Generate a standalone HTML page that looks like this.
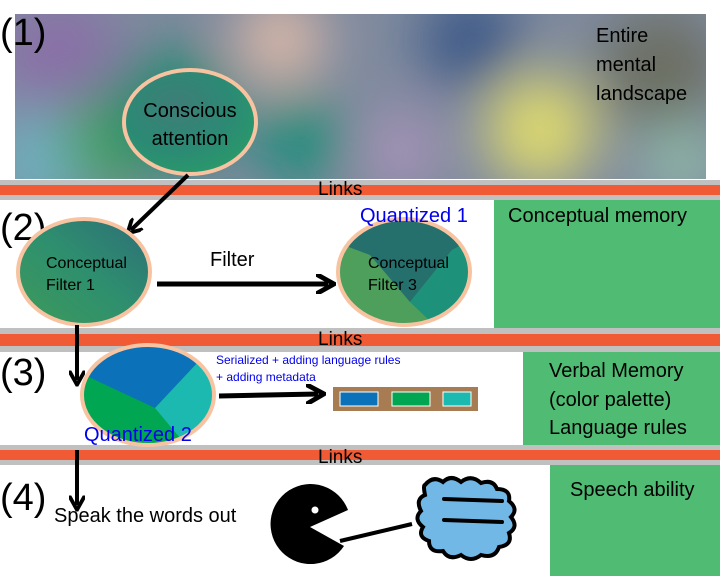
<!DOCTYPE html>
<html><head><meta charset="utf-8"><style>html,body{margin:0;padding:0;background:#fff}svg{display:block}text{font-family:"Liberation Sans",sans-serif}</style></head><body>
<svg width="720" height="576" viewBox="0 0 720 576" xmlns="http://www.w3.org/2000/svg">
<defs>
<filter id="bl" x="-50%" y="-50%" width="200%" height="200%"><feGaussianBlur stdDeviation="28"/></filter>
<clipPath id="tc"><rect x="15" y="14" width="691" height="165"/></clipPath>
<radialGradient id="g1" cx="40%" cy="35%" r="70%"><stop offset="0" stop-color="#3f7d78"/><stop offset="0.6" stop-color="#2b8a74"/><stop offset="1" stop-color="#2a9a6a"/></radialGradient>
<linearGradient id="g2" x1="0" y1="1" x2="1" y2="0"><stop offset="0" stop-color="#3e9a5a"/><stop offset="0.5" stop-color="#2e8f6e"/><stop offset="1" stop-color="#2d6e78"/></linearGradient>
<clipPath id="c3"><ellipse cx="404" cy="272" rx="66" ry="53"/></clipPath>
<clipPath id="c2"><ellipse cx="148" cy="395" rx="66" ry="50"/></clipPath>
<marker id="ah" viewBox="0 0 10 10" refX="6" refY="5" markerWidth="4" markerHeight="4" orient="auto"><path d="M0,0 L9,5 L0,10" fill="none" stroke="#000" stroke-width="2.4"/></marker>
</defs>
<g clip-path="url(#tc)">
<rect x="15" y="14" width="691" height="165" fill="#7f8a9e"/>
<g filter="url(#bl)">
<circle cx="60" cy="60" r="60" fill="#8a70a8"/>
<circle cx="40" cy="160" r="50" fill="#6fb0c0"/>
<circle cx="110" cy="140" r="50" fill="#4aa060"/>
<circle cx="170" cy="110" r="60" fill="#1e8a70"/>
<circle cx="280" cy="40" r="45" fill="#d9b8a8"/>
<circle cx="300" cy="140" r="45" fill="#1d8e7a"/>
<circle cx="470" cy="40" r="50" fill="#3e5a88"/>
<circle cx="400" cy="150" r="40" fill="#a893b8"/>
<circle cx="540" cy="130" r="55" fill="#dcd870"/>
<circle cx="660" cy="70" r="60" fill="#6c6e62"/>
<circle cx="680" cy="160" r="40" fill="#8fb8a8"/>
</g>
</g>
<text x="0" y="45" font-size="38">(1)</text>
<text x="596" y="42" font-size="20">Entire</text>
<text x="596" y="71" font-size="20">mental</text>
<text x="596" y="100" font-size="20">landscape</text>
<ellipse cx="190" cy="122" rx="66" ry="52" fill="url(#g1)" stroke="#f8c3a0" stroke-width="4"/>
<text x="190" y="117" font-size="20" text-anchor="middle">Conscious</text>
<text x="190" y="145" font-size="20" text-anchor="middle">attention</text>
<rect x="0" y="180" width="720" height="20" fill="#c0c0c0"/><rect x="0" y="185" width="720" height="10" fill="#f05a35"/>
<rect x="0" y="328" width="720" height="24" fill="#c0c0c0"/><rect x="0" y="334" width="720" height="12" fill="#f05a35"/>
<rect x="0" y="445" width="720" height="20" fill="#c0c0c0"/><rect x="0" y="450" width="720" height="10" fill="#f05a35"/>
<text x="318" y="195" font-size="19">Links</text>
<text x="318" y="345" font-size="19">Links</text>
<text x="318" y="463" font-size="19">Links</text>
<rect x="494" y="200" width="226" height="128" fill="#50bb72"/>
<rect x="523" y="352" width="197" height="93" fill="#50bb72"/>
<rect x="550" y="465" width="170" height="111" fill="#50bb72"/>
<text x="508" y="222" font-size="20">Conceptual memory</text>
<text x="549" y="377" font-size="20">Verbal Memory</text>
<text x="549" y="406" font-size="20">(color palette)</text>
<text x="549" y="434" font-size="20">Language rules</text>
<text x="570" y="496" font-size="20">Speech ability</text>
<text x="0" y="240" font-size="38">(2)</text>
<line x1="188" y1="175" x2="131" y2="230" stroke="#000" stroke-width="4" marker-end="url(#ah)"/>
<ellipse cx="84" cy="272" rx="66" ry="53" fill="url(#g2)" stroke="#f8c3a0" stroke-width="4"/>
<text x="46" y="268" font-size="16">Conceptual</text>
<text x="46" y="290" font-size="16">Filter 1</text>
<text x="210" y="266" font-size="20">Filter</text>
<line x1="157" y1="284" x2="328" y2="284" stroke="#000" stroke-width="5" marker-end="url(#ah)"/>
<g clip-path="url(#c3)">
<rect x="330" y="210" width="150" height="130" fill="#4e9e5c"/>
<polygon points="330,210 480,210 480,235 452,250 410,302 370,255 330,240" fill="#25706c"/>
<polygon points="452,250 480,235 480,340 450,340 410,302" fill="#1d917a"/>
</g>
<ellipse cx="404" cy="272" rx="66" ry="53" fill="none" stroke="#f8c3a0" stroke-width="4"/>
<text x="368" y="268" font-size="16">Conceptual</text>
<text x="368" y="290" font-size="16">Filter 3</text>
<text x="360" y="222" font-size="20" fill="#0000ee">Quantized 1</text>
<text x="0" y="385" font-size="38">(3)</text>
<line x1="77" y1="325" x2="77" y2="380" stroke="#000" stroke-width="4" marker-end="url(#ah)"/>
<g clip-path="url(#c2)">
<rect x="78" y="340" width="140" height="110" fill="#00a651"/>
<polygon points="78,340 218,340 218,360 200,360 155,408 78,372" fill="#0b72b9"/>
<polygon points="200,360 218,360 218,450 190,450 155,408" fill="#1cb9b0"/>
</g>
<ellipse cx="148" cy="395" rx="66" ry="50" fill="none" stroke="#f8c3a0" stroke-width="4"/>
<text x="84" y="441" font-size="20" fill="#0000ee">Quantized 2</text>
<text x="216" y="364" font-size="12" fill="#0000ee">Serialized + adding language rules</text>
<text x="216" y="381" font-size="12" fill="#0000ee">+ adding metadata</text>
<line x1="219" y1="396" x2="318" y2="394" stroke="#000" stroke-width="5" marker-end="url(#ah)"/>
<rect x="333" y="387" width="145" height="24" fill="#a87c52"/>
<rect x="340" y="392" width="38" height="14" fill="#0b72b9" stroke="#fff" stroke-width="1"/>
<rect x="392" y="392" width="38" height="14" fill="#00a651" stroke="#fff" stroke-width="1"/>
<rect x="443" y="392" width="28" height="14" fill="#1cb9b0" stroke="#fff" stroke-width="1"/>
<text x="0" y="510" font-size="38">(4)</text>
<line x1="77" y1="450" x2="77" y2="505" stroke="#000" stroke-width="4" marker-end="url(#ah)"/>
<text x="54" y="522" font-size="20">Speak the words out</text>
<path d="M310,527 L348,510 A40,40 0 1 0 344,546 Z" fill="#000"/>
<circle cx="315" cy="510" r="3.5" fill="#fff"/>
<line x1="340" y1="541" x2="412" y2="524" stroke="#000" stroke-width="4"/>
<path d="M425,485 q8,-10 18,-3 q8,-8 18,0 q10,-8 20,1 q12,-4 16,6 q14,0 12,12 q10,8 2,16 q8,10 -2,16 q4,12 -10,14 q-4,12 -18,8 q-10,8 -20,0 q-12,6 -18,-4 q-14,2 -14,-10 q-12,-4 -6,-14 q-10,-8 -2,-16 q-6,-12 4,-16 q-2,-10 0,-10z" fill="#72b8e6" stroke="#000" stroke-width="4"/>
<line x1="444" y1="499" x2="502" y2="501" stroke="#000" stroke-width="4" stroke-linecap="round"/>
<line x1="444" y1="520" x2="502" y2="522" stroke="#000" stroke-width="4" stroke-linecap="round"/>
</svg>
</body></html>
